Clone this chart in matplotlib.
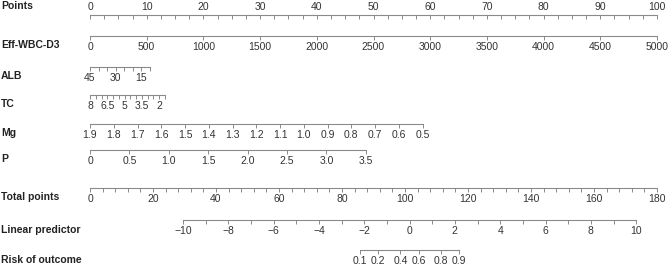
import numpy as np
import matplotlib
matplotlib.use("Agg")
import matplotlib.pyplot as plt
from matplotlib.ticker import NullLocator

# ---- data ----
points_major = np.arange(0, 101, 10)
points_minor = np.arange(0, 100.1, 2.5)

eff_ticks = np.arange(0, 5001, 500)          # Eff-WBC-D3, 0 -> 0 pts, 5000 -> 100 pts
alb_labels = [45, 30, 15]
alb_minor = np.arange(10, 46, 5)
tc_labels = [8, 6.5, 5, 3.5, 2]
tc_minor = np.arange(1.5, 8.01, 0.5)
mg_ticks = [1.9, 1.8, 1.7, 1.6, 1.5, 1.4, 1.3, 1.2, 1.1, 1.0, 0.9, 0.8, 0.7, 0.6, 0.5]
p_ticks = [0, 0.5, 1.0, 1.5, 2.0, 2.5, 3.0, 3.5]
total_major = np.arange(0, 181, 20)
total_minor = np.arange(0, 181, 4)
lp_major = np.arange(-10, 11, 2)
lp_minor = np.arange(-10, 11, 1)
risk_ticks = [0.1, 0.2, 0.4, 0.6, 0.8, 0.9]

# points contributed per unit (value at zero points, points per unit)
eff_scale = (0, 100 / 5000)
alb_scale = (45, -0.3)
tc_scale = (8, -2.03)
mg_scale = (1.9, -41.9)
p_scale = (0, 13.9)
total_scale = (0, 100 / 180)
lp_at_tp0 = (-10, 29.5, 0.139)   # LP = -10 + 0.139*(TP-29.5)

# ---- layout in pixels ----
W, H = 669, 266
X0, X1 = 90, 657                  # pixel of 0 and 100 points
ppx = (X1 - X0) / 100
pos_lim = np.array([-X0 / ppx, (W - X0) / ppx])

fig = plt.figure(figsize=(W / 100, H / 100), dpi=100)
plt.rcParams['font.family'] = ['Liberation Sans', 'DejaVu Sans']

LINE = '#8a8a8a'
TXT = '#333333'
FS = 7.5


def row(y_line, zero, per, bounds, major, labels=None, minor=None, top=False):
    h = 4 / H
    if top:
        ax = fig.add_axes([0, 1 - y_line / H - h, 1, h])
    else:
        ax = fig.add_axes([0, 1 - y_line / H, 1, h])
    ax.patch.set_visible(False)
    for s in ax.spines.values():
        s.set_visible(False)
    side = 'top' if top else 'bottom'
    sp = ax.spines[side]
    sp.set_visible(True)
    sp.set_color(LINE)
    sp.set_linewidth(0.8)
    ax.set_xlim(zero + pos_lim[0] / per, zero + pos_lim[1] / per)
    sp.set_bounds(*bounds)
    ax.set_yticks([])
    if labels is None:
        labels = [('%g' % v) for v in major]
    ax.set_xticks(major, labels=labels)
    if minor is not None:
        ax.set_xticks(minor, minor=True)
    if top:
        ax.xaxis.tick_top()
        ax.xaxis.set_label_position('top')
        ax.tick_params(axis='x', which='both', direction='in', length=3,
                       width=0.7, color=LINE, labelsize=FS, labelcolor=TXT, pad=2)
    else:
        ax.tick_params(axis='x', which='both', direction='out', length=3,
                       width=0.7, color=LINE, labelsize=FS, labelcolor=TXT, pad=1.5)
    return ax


def name(y, text):
    fig.text(1 / W, 1 - y / H, text, ha='left', va='center', fontsize=FS,
             fontweight='bold', color='#222222')


row(15, 0, 1, (0, 100), points_major, minor=points_minor, top=True)
name(6, 'Points')

row(36, *eff_scale, (0, 5000), eff_ticks)
name(45, 'Eff-WBC-D3')

row(67, *alb_scale, (45, 10), alb_labels, minor=alb_minor)
name(76, 'ALB')

row(95, *tc_scale, (8, 1.5), tc_labels, labels=['8', '6.5', '5', '3.5', '2'], minor=tc_minor)
name(104, 'TC')

row(124, *mg_scale, (1.9, 0.5), mg_ticks, labels=['%.1f' % v for v in mg_ticks])
name(133, 'Mg')

row(150, *p_scale, (0, 3.5), p_ticks, labels=['0'] + ['%.1f' % v for v in p_ticks[1:]])
name(159, 'P')

row(188, *total_scale, (0, 180), total_major, minor=total_minor)
name(197, 'Total points')

# linear predictor as function of total points
lp0, tp0, slope = lp_at_tp0
lp_per_pos = slope * 180 / 100
lp_zero = lp0 - slope * tp0
ax_lp = row(220, -lp_zero / lp_per_pos * 0 + 0, 1, (-10, 10), lp_major, minor=lp_minor)
ax_lp.set_xlim(lp_zero + pos_lim[0] * lp_per_pos, lp_zero + pos_lim[1] * lp_per_pos)
ax_lp.set_xticks(lp_major, labels=['%d' % v for v in lp_major])
ax_lp.set_xticklabels([('\u2212%d' % -v) if v < 0 else '%d' % v for v in lp_major])
name(230, 'Linear predictor')

# risk on a logit scale aligned with the linear predictor
ax_r = row(250, 0, 1, (0, 1), [0.5])
ax_r.set_xscale('logit')
lp_lim = lp_zero + pos_lim * lp_per_pos
ax_r.set_xlim(1 / (1 + np.exp(-lp_lim[0])), 1 / (1 + np.exp(-lp_lim[1])))
ax_r.spines['bottom'].set_bounds(risk_ticks[0], risk_ticks[-1])
ax_r.set_xticks(risk_ticks, labels=['%.1f' % v for v in risk_ticks])
ax_r.xaxis.set_minor_locator(NullLocator())
ax_r.tick_params(axis='x', which='both', direction='out', length=3,
                 width=0.7, color=LINE, labelsize=FS, labelcolor=TXT, pad=1.5)
name(260, 'Risk of outcome')

fig.savefig('out.png', dpi=100)
